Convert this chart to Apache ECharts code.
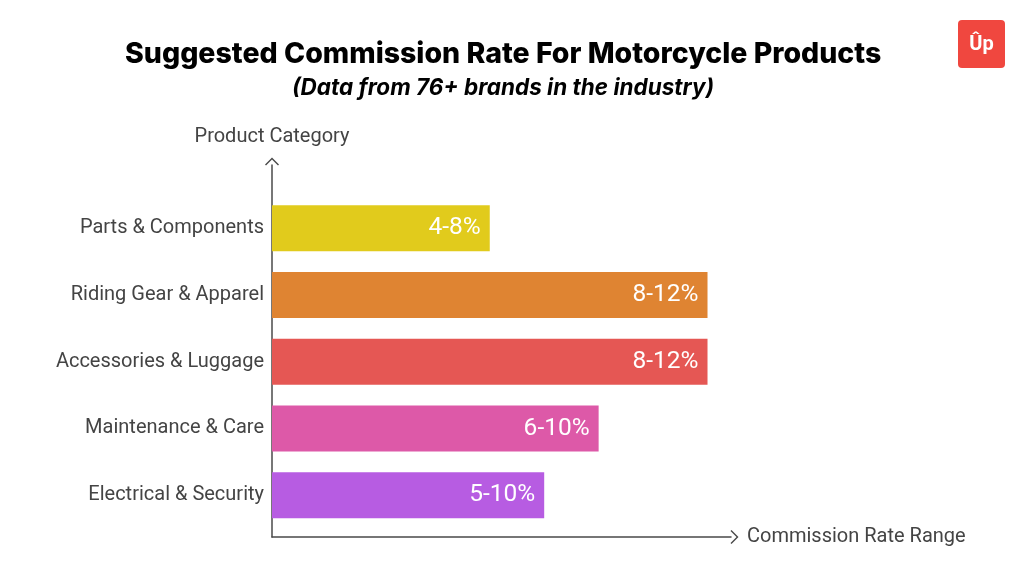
<!DOCTYPE html>
<html>
<head>
<meta charset="utf-8">
<script src="https://cdn.jsdelivr.net/npm/echarts@6/dist/echarts.min.js"></script>
<style>
html,body{margin:0;padding:0;background:#fff;}
#chart{width:1024px;height:572px;}
</style>
</head>
<body>
<div id="chart"></div>
<script>
const categories = ['Parts & Components', 'Riding Gear & Apparel', 'Accessories & Luggage', 'Maintenance & Care', 'Electrical & Security'];
const values = [4, 8, 8, 6, 5];
const rangeLabels = ['4-8%', '8-12%', '8-12%', '6-10%', '5-10%'];
const barColors = ['#E1CB1C', '#DF8432', '#E55754', '#DD59A8', '#B75CE2'];

const titleText = 'Suggested Commission Rate For Motorcycle Products';
const subtitleText = '(Data from 76+ brands in the industry)';
const yAxisName = 'Product Category';
const xAxisName = 'Commission Rate Range';

const chevron = 'path://M0,7 L7,0 L14,7 L13,8 L7,2 L1,8 Z';
const axisColor = '#4a4a4a';
const X_MAX = 8.56;

const chart = echarts.init(document.getElementById('chart'));
chart.setOption({
  backgroundColor: '#ffffff',
  animation: false,
  title: [
    {
      text: titleText,
      left: 120, top: 35,
      textStyle: { fontFamily: 'Inter', fontWeight: 800, fontSize: 28.5, color: '#000' }
    },
    {
      text: subtitleText,
      left: 287, top: 72,
      textStyle: { fontFamily: 'Inter', fontWeight: 700, fontStyle: 'italic', fontSize: 22.5, color: '#000' }
    }
  ],
  grid: [
    { left: 272, width: 459, top: 165, bottom: 35, containLabel: false },
    { left: 272, width: 466, top: 195, height: 333.5, containLabel: false }
  ],
  xAxis: [
    {
      gridIndex: 0, type: 'value', min: 0, max: X_MAX,
      axisLine: { show: true, lineStyle: { color: axisColor, width: 1.5 }, symbol: ['none', chevron], symbolSize: [14, 8], symbolOffset: [0, 3.5] },
      axisTick: { show: false }, axisLabel: { show: false }, splitLine: { show: false },
      name: xAxisName, nameLocation: 'end', nameGap: 16,
      nameTextStyle: { fontFamily: 'Roboto', fontSize: 20, color: '#444', verticalAlign: 'middle' }
    },
    {
      gridIndex: 1, type: 'value', min: 0, max: X_MAX,
      axisLine: { show: false }, axisTick: { show: false }, axisLabel: { show: false }, splitLine: { show: false }
    }
  ],
  yAxis: [
    {
      gridIndex: 0, type: 'value', min: 0, max: 1,
      axisLine: { show: true, lineStyle: { color: axisColor, width: 1.5 }, symbol: ['none', chevron], symbolSize: [14, 8], symbolOffset: [0, 3.5] },
      axisTick: { show: false }, axisLabel: { show: false }, splitLine: { show: false },
      name: yAxisName, nameLocation: 'end', nameGap: 18,
      nameTextStyle: { fontFamily: 'Roboto', fontSize: 20, color: '#444', align: 'center' }
    },
    {
      gridIndex: 1, type: 'category', data: categories, inverse: true,
      axisLine: { show: false }, axisTick: { show: false }, splitLine: { show: false },
      axisLabel: { fontFamily: 'Roboto', fontSize: 20, color: '#444', margin: 8 }
    }
  ],
  series: [
    {
      type: 'bar', xAxisIndex: 1, yAxisIndex: 1,
      data: values.map((v, i) => ({ value: v, itemStyle: { color: barColors[i] } })),
      barWidth: 46,
      label: {
        show: true, position: 'insideRight', distance: 9,
        formatter: p => rangeLabels[p.dataIndex],
        fontFamily: 'Roboto', fontSize: 24.5, color: '#fff'
      }
    }
  ],
  graphic: [
    {
      type: 'group', right: 19, top: 20,
      children: [
        { type: 'rect', shape: { x: 0, y: 0, width: 47, height: 48, r: 4 }, style: { fill: '#F0473F' } },
        { type: 'text', x: 23.5, y: 25, style: { text: 'Ûp', fontFamily: 'Roboto', fontWeight: 700, fontSize: 20, fill: '#fff', align: 'center', verticalAlign: 'middle' } }
      ]
    }
  ]
});
</script>
</body>
</html>
